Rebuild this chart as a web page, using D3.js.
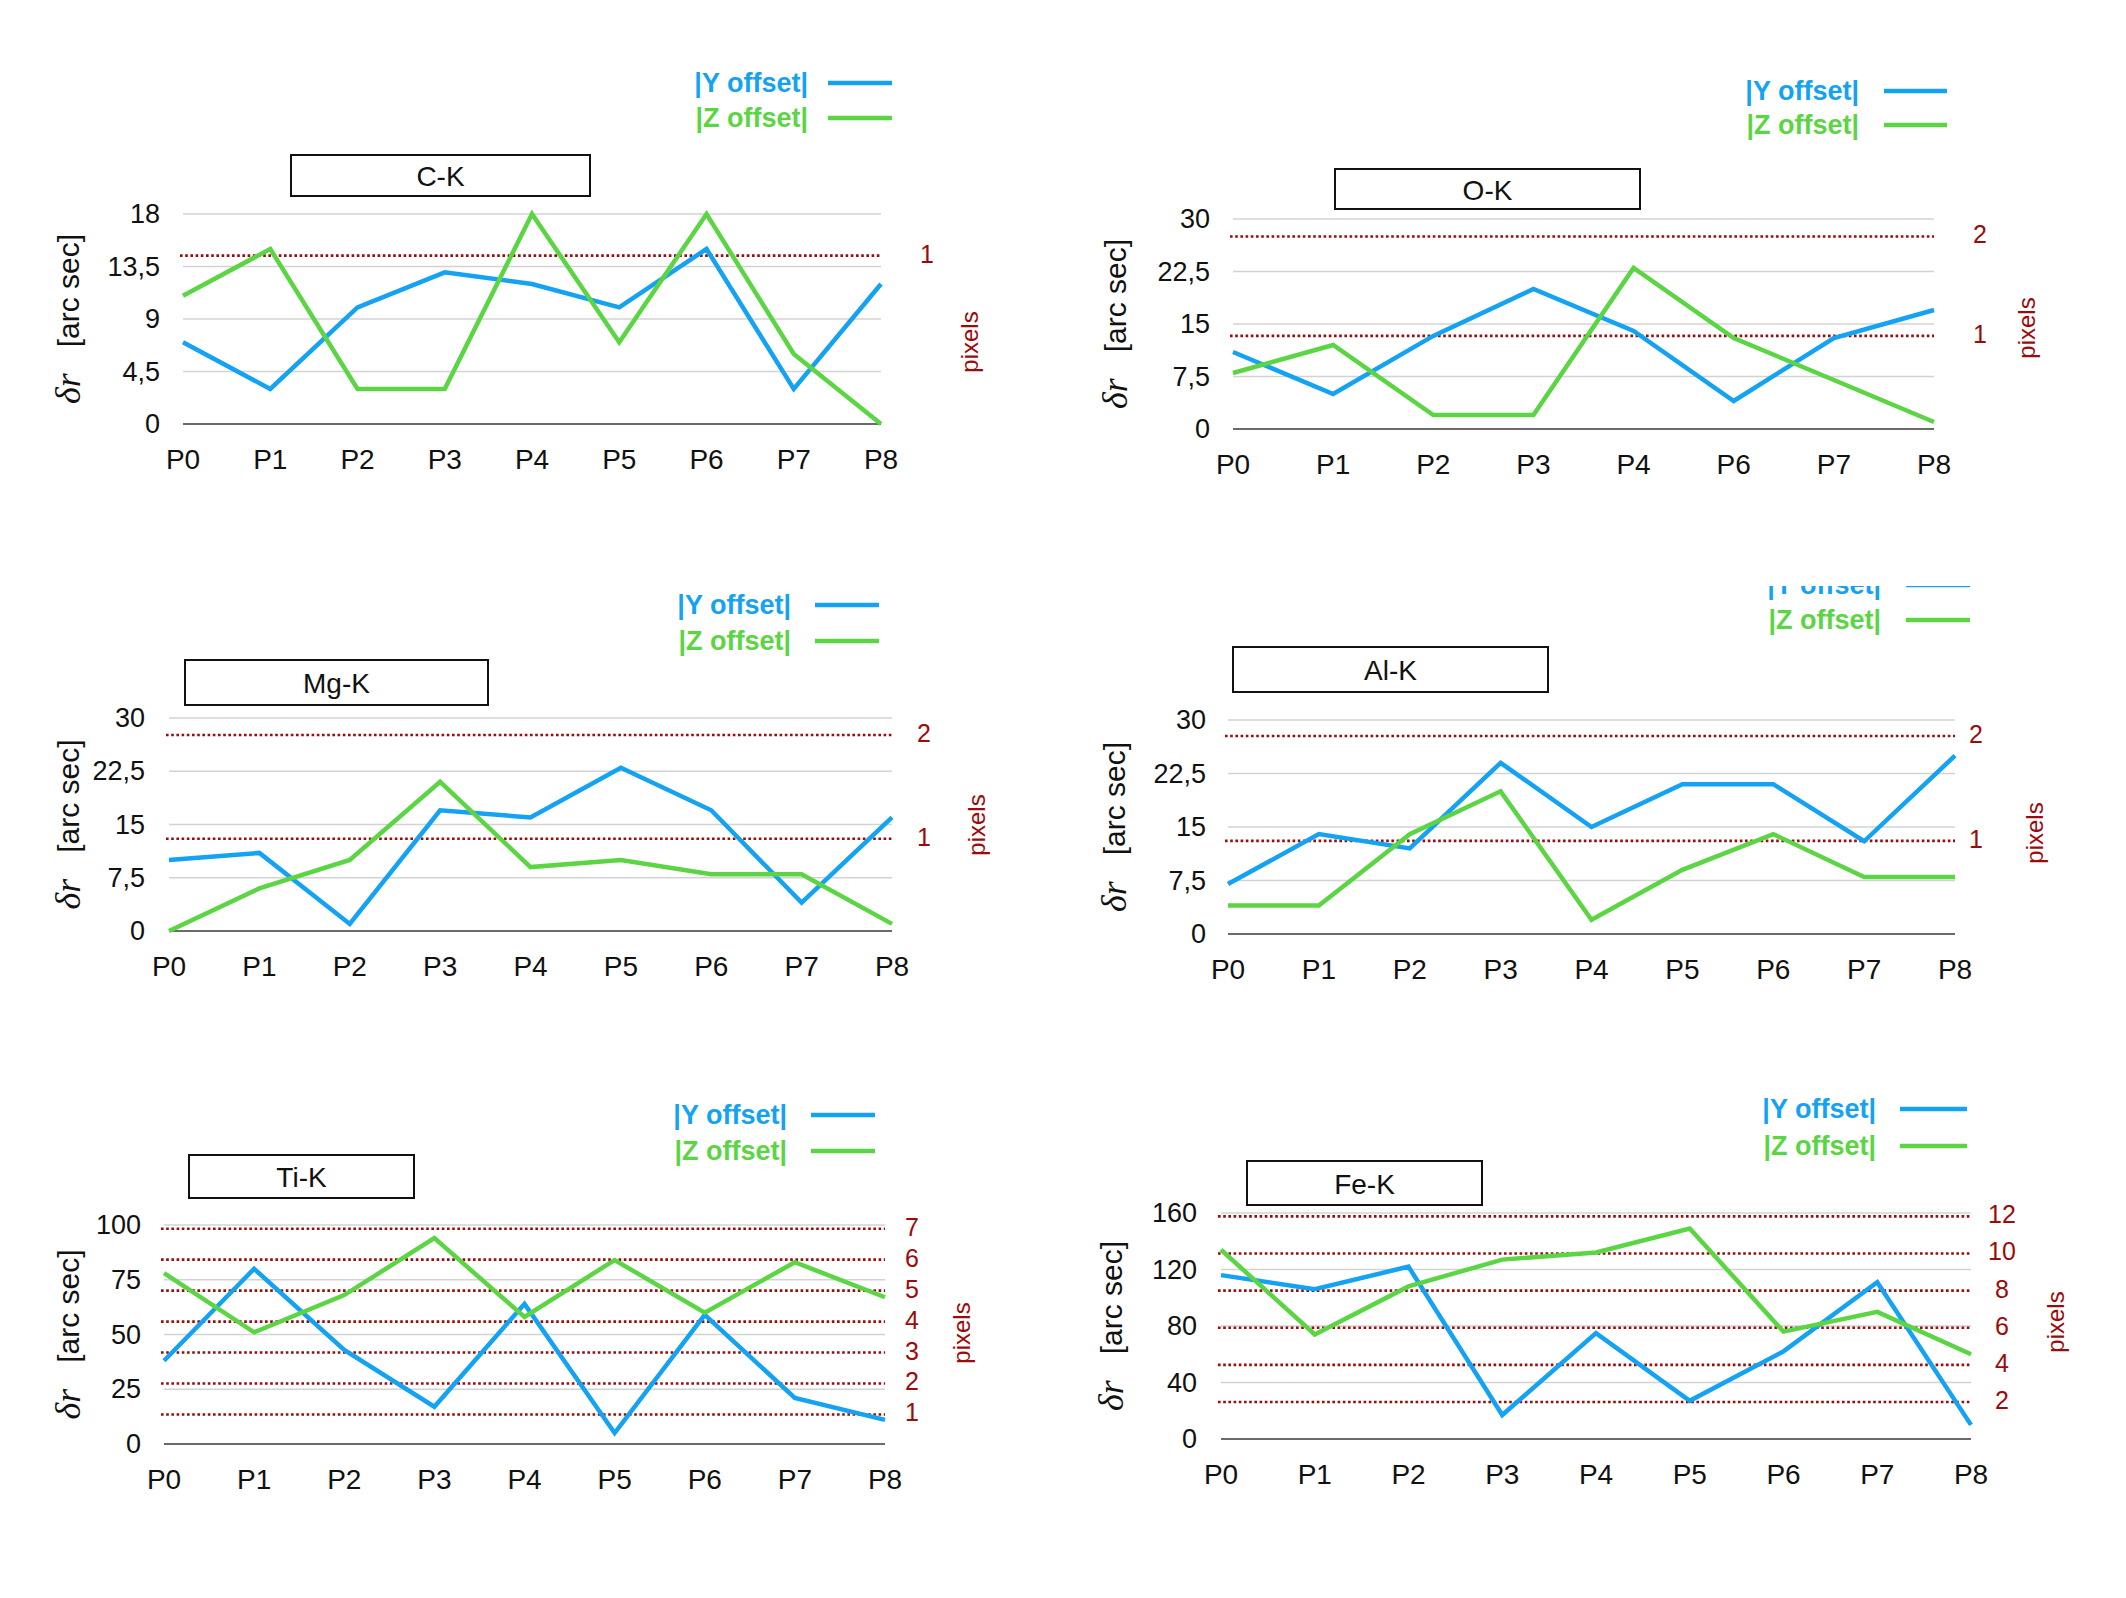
<!DOCTYPE html>
<html><head><meta charset="utf-8">
<script src="https://cdn.jsdelivr.net/npm/d3@7"></script>
<style>body{margin:0;background:#fff}svg{display:block}</style>
</head><body>
<script>
// ---------- DATA ----------
const panelNames = ["C-K", "O-K", "Mg-K", "Al-K", "Ti-K", "Fe-K"];
const cats9 = ["P0","P1","P2","P3","P4","P5","P6","P7","P8"];
const catsOK = ["P0","P1","P2","P3","P4","P6","P7","P8"];

const yOffCK = [7, 3, 10, 13, 12, 10, 15, 3, 12];
const zOffCK = [11, 15, 3, 3, 18, 7, 18, 6, 0];
const yOffOK = [11, 5, 13.3, 20, 14, 4, 13, 17];
const zOffOK = [8, 12, 2, 2, 23, 13, 7, 1];
const yOffMg = [10, 11, 1, 17, 16, 23, 17, 4, 16];
const zOffMg = [0, 6, 10, 21, 9, 10, 8, 8, 1];
const yOffAl = [7, 14, 12, 24, 15, 21, 21, 13, 25];
const zOffAl = [4, 4, 14, 20, 2, 9, 14, 8, 8];
const yOffTi = [38, 80, 43, 17, 64, 5, 59, 21, 11];
const zOffTi = [78, 51, 68, 94, 58, 84, 60, 83, 67];
const yOffFe = [116, 106, 122, 17, 75, 27, 62, 111, 10];
const zOffFe = [134, 74, 108, 127, 132, 149, 76, 90, 60];

const ticksCK = [0, 4.5, 9, 13.5, 18];
const ticks30 = [0, 7.5, 15, 22.5, 30];
const ticksTi = [0, 25, 50, 75, 100];
const ticksFe = [0, 40, 80, 120, 160];
const tickLabelsCK = ["0", "4,5", "9", "13,5", "18"];
const tickLabels30 = ["0", "7,5", "15", "22,5", "30"];
const tickLabelsTi = ["0", "25", "50", "75", "100"];
const tickLabelsFe = ["0", "40", "80", "120", "160"];

// secondary (pixels) axis: ticks and domain (pixel value at bottom / top of plot)
const pixTicksCK = [1];
const pixTicksOK = [1, 2];
const pixTicksMg = [1, 2];
const pixTicksAl = [1, 2];
const pixTicksTi = [1, 2, 3, 4, 5, 6, 7];
const pixTicksFe = [2, 4, 6, 8, 10, 12];
const pixDomCK = [0, 1.247];
const pixDomOK = [0.063, 2.176];
const pixDomMg = [0.112, 2.164];
const pixDomAl = [0.111, 2.153];
const pixDomTi = [0.045, 7.12];
const pixDomFe = [0.006, 12.18];

const legendLabels = ["|Y offset|", "|Z offset|"];

// ---------- LAYOUT ----------
const panels = [
  {name: panelNames[0], cats: cats9, ys: [yOffCK, zOffCK], ticks: ticksCK, tl: tickLabelsCK, pt: pixTicksCK, pd: pixDomCK,
   x0: 183, x1: 881, yt: 214, yb: 424, box: [291,155,590,196], leg: [83,118], legTx: 808, sw: [828,892],
   rx: 927, px: 969, py: 342, ytx: 68, tickX: 160},
  {name: panelNames[1], cats: catsOK, ys: [yOffOK, zOffOK], ticks: ticks30, tl: tickLabels30, pt: pixTicksOK, pd: pixDomOK,
   x0: 1233, x1: 1934, yt: 219, yb: 429, box: [1335,169,1640,209], leg: [91,125], legTx: 1859, sw: [1884,1947],
   rx: 1980, px: 2026, py: 328, ytx: 1115, tickX: 1210},
  {name: panelNames[2], cats: cats9, ys: [yOffMg, zOffMg], ticks: ticks30, tl: tickLabels30, pt: pixTicksMg, pd: pixDomMg,
   x0: 169, x1: 892, yt: 718, yb: 931, box: [185,660,488,705], leg: [605,641], legTx: 791, sw: [815,879],
   rx: 924, px: 976, py: 825, ytx: 68, tickX: 145},
  {name: panelNames[3], cats: cats9, ys: [yOffAl, zOffAl], ticks: ticks30, tl: tickLabels30, pt: pixTicksAl, pd: pixDomAl,
   x0: 1228, x1: 1955, yt: 720, yb: 934, box: [1233,647,1548,692], leg: [585,620], legTx: 1881, sw: [1906,1970],
   rx: 1976, px: 2034, py: 833, ytx: 1114, tickX: 1206, clipTop: 586},
  {name: panelNames[4], cats: cats9, ys: [yOffTi, zOffTi], ticks: ticksTi, tl: tickLabelsTi, pt: pixTicksTi, pd: pixDomTi,
   x0: 164, x1: 885, yt: 1225, yb: 1444, box: [189,1155,414,1198], leg: [1115,1151], legTx: 787, sw: [811,875],
   rx: 912, px: 961, py: 1333, ytx: 68, tickX: 141},
  {name: panelNames[5], cats: cats9, ys: [yOffFe, zOffFe], ticks: ticksFe, tl: tickLabelsFe, pt: pixTicksFe, pd: pixDomFe,
   x0: 1221, x1: 1971, yt: 1213, yb: 1439, box: [1247,1161,1482,1205], leg: [1109,1146], legTx: 1876, sw: [1900,1967],
   rx: 2002, px: 2055, py: 1322, ytx: 1111, tickX: 1197}
];

const colors = ["#14A2F2", "#5CD545"];
const red = "#9B0B0B";
const font = "'Liberation Sans', Arial, Helvetica, sans-serif";

const svg = d3.select("body").append("svg").attr("width", 2126).attr("height", 1598);
svg.append("rect").attr("width", 2126).attr("height", 1598).attr("fill", "#fff");
const defs = svg.append("defs");

panels.forEach((P, pi) => {
  const g = svg.append("g");
  const x = d3.scalePoint().domain(P.cats).range([P.x0, P.x1]).padding(0);
  const yMax = P.ticks[P.ticks.length - 1];
  const y = d3.scaleLinear().domain([0, yMax]).range([P.yb, P.yt]);
  const r = d3.scaleLinear().domain(P.pd).range([P.yb, P.yt]);

  // grid lines
  g.selectAll(".grid").data(P.ticks.filter(t => t > 0)).join("line")
    .attr("x1", P.x0).attr("x2", P.x1).attr("y1", d => y(d)).attr("y2", d => y(d))
    .attr("stroke", "#d3d3d3").attr("stroke-width", 1.6);
  // pixel dotted lines
  g.selectAll(".pix").data(P.pt).join("line")
    .attr("x1", P.x0 - 3).attr("x2", P.x1).attr("y1", d => r(d)).attr("y2", d => r(d))
    .attr("stroke", red).attr("stroke-width", 2.6).attr("stroke-dasharray", "2.6,2.6");
  // zero line
  g.append("line").attr("x1", P.x0).attr("x2", P.x1).attr("y1", y(0)).attr("y2", y(0))
    .attr("stroke", "#6a6a6a").attr("stroke-width", 2);

  // y tick labels
  g.selectAll(".yt").data(P.ticks).join("text")
    .attr("x", P.tickX).attr("y", d => y(d)).attr("text-anchor", "end")
    .attr("dominant-baseline", "central").attr("font-family", font).attr("font-size", 27)
    .attr("fill", "#111").text((d, i) => P.tl[i]);
  // x tick labels
  g.selectAll(".xt").data(P.cats).join("text")
    .attr("x", d => x(d)).attr("y", P.yb + 35).attr("text-anchor", "middle")
    .attr("dominant-baseline", "central").attr("font-family", font).attr("font-size", 28)
    .attr("fill", "#111").text(d => d);
  // right pixel labels
  g.selectAll(".rt").data(P.pt).join("text")
    .attr("x", P.rx).attr("y", d => r(d) - 2).attr("text-anchor", "middle")
    .attr("dominant-baseline", "central").attr("font-family", font).attr("font-size", 25)
    .attr("fill", red).text(d => d);
  // pixels label
  g.append("text").attr("transform", `translate(${P.px},${P.py}) rotate(-90)`)
    .attr("text-anchor", "middle").attr("dominant-baseline", "central")
    .attr("font-family", font).attr("font-size", 24).attr("fill", red).text("pixels");
  // y title
  const yc = (P.yt + P.yb) / 2;
  const tt = g.append("text").attr("transform", `translate(${P.ytx},${yc}) rotate(-90)`)
    .attr("text-anchor", "middle").attr("dominant-baseline", "central").attr("fill", "#111");
  tt.append("tspan").attr("font-family", "'Liberation Serif', 'DejaVu Serif', serif")
    .attr("font-style", "italic").attr("font-size", 36).text("δr");
  tt.append("tspan").attr("dx", 26).attr("font-family", font).attr("font-size", 30).text("[arc sec]");

  // data lines
  const line = d3.line().x((d, i) => x(P.cats[i])).y(d => y(d));
  P.ys.forEach((ser, si) => {
    g.append("path").datum(ser).attr("d", line).attr("fill", "none")
      .attr("stroke", colors[si]).attr("stroke-width", 4.5).attr("stroke-linejoin", "miter");
  });

  // title box
  g.append("rect").attr("x", P.box[0]).attr("y", P.box[1])
    .attr("width", P.box[2] - P.box[0]).attr("height", P.box[3] - P.box[1])
    .attr("fill", "#fff").attr("stroke", "#111").attr("stroke-width", 2);
  g.append("text").attr("x", (P.box[0] + P.box[2]) / 2).attr("y", (P.box[1] + P.box[3]) / 2 + 1)
    .attr("text-anchor", "middle").attr("dominant-baseline", "central")
    .attr("font-family", font).attr("font-size", 28).attr("fill", "#111").text(P.name);

  // legend
  const lg = g.append("g");
  if (P.clipTop !== undefined) {
    const id = "clip" + pi;
    defs.append("clipPath").attr("id", id).append("rect")
      .attr("x", P.sw[0] - 300).attr("y", P.clipTop).attr("width", 400).attr("height", 200);
    lg.attr("clip-path", `url(#${id})`);
  }
  legendLabels.forEach((lab, li) => {
    lg.append("text").attr("x", P.legTx).attr("y", P.leg[li]).attr("text-anchor", "end")
      .attr("dominant-baseline", "central").attr("font-family", font).attr("font-weight", "bold")
      .attr("font-size", 27).attr("fill", colors[li]).text(lab);
    lg.append("line").attr("x1", P.sw[0]).attr("x2", P.sw[1]).attr("y1", P.leg[li]).attr("y2", P.leg[li])
      .attr("stroke", colors[li]).attr("stroke-width", 4.5);
  });
});
</script>
</body></html>
